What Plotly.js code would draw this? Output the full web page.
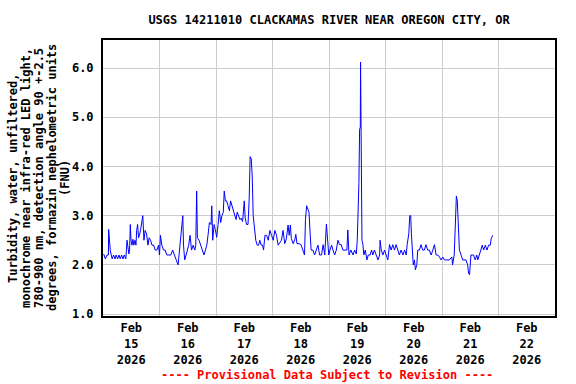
<!DOCTYPE html>
<html>
<head>
<meta charset="utf-8">
<script src="https://cdn.plot.ly/plotly-3.0.1.min.js"></script>
<style>html,body{margin:0;padding:0;background:#fff}#chart{width:576px;height:384px}</style>
</head>
<body>
<div id="chart"></div>
<script>
// Hours after 2026-02-15 00:00 and turbidity (FNU)
const hours = [0.3,1.0,1.7,2.3,2.4,2.7,3.1,3.5,3.9,4.5,5.1,5.6,6.2,6.8,7.3,7.9,8.5,9.0,9.7,10.2,10.6,11.0,11.3,11.6,11.9,12.3,12.7,13.1,13.6,14.0,14.3,14.7,15.1,15.5,16.0,16.5,16.9,17.4,17.9,18.5,19.1,19.6,20.2,20.8,21.5,22.2,22.9,23.6,24.0,24.4,25.0,25.7,26.4,27.1,28.0,28.8,29.6,30.2,31.1,31.9,32.5,33.0,33.5,33.9,34.2,34.7,35.3,35.9,36.4,37.0,37.6,38.3,39.0,39.4,39.8,40.1,40.8,41.5,42.2,42.9,43.5,44.1,44.6,45.2,45.9,46.2,46.6,47.2,47.7,48.3,48.9,49.4,50.0,50.5,51.1,51.5,52.0,52.5,53.1,53.7,54.2,54.8,55.3,55.9,56.5,57.0,57.6,58.2,58.7,59.3,60.0,60.4,61.0,61.6,62.1,62.5,63.0,63.4,63.8,64.4,64.9,65.5,66.1,66.6,67.2,67.8,68.2,68.8,69.5,70.2,70.9,71.6,72.3,73.0,73.7,74.4,75.1,75.8,76.5,77.2,77.9,78.6,79.1,79.6,80.0,80.8,81.5,81.9,82.4,83.3,84.1,85.0,85.6,86.0,86.5,87.1,87.5,88.0,88.4,89.2,89.9,90.6,91.3,92.0,92.8,93.5,94.2,94.9,95.3,95.9,96.4,97.1,97.7,98.4,99.1,99.8,100.5,101.2,101.9,102.9,103.6,104.0,104.5,105.3,106.2,106.9,107.6,108.0,108.4,108.7,109.0,109.3,109.4,109.6,109.7,110.0,110.4,110.8,111.4,112.1,112.7,113.5,114.1,114.6,115.3,116.1,116.8,117.5,117.7,118.2,118.9,119.6,120.3,121.0,121.7,122.4,123.1,123.8,124.5,125.2,125.9,126.6,127.4,128.1,128.8,129.2,129.9,130.3,130.7,131.0,131.4,131.8,132.3,132.7,133.3,133.7,134.4,135.1,135.8,136.5,137.2,137.9,138.6,139.4,140.1,140.8,141.5,142.2,142.9,143.6,144.3,145.0,145.7,147.1,148.2,148.5,149.2,149.7,150.1,150.5,150.9,151.4,152.1,152.8,154.2,154.9,155.3,155.7,156.3,157.4,158.1,158.8,159.2,160.0,160.5,161.1,161.7,162.4,163.1,163.8,164.5,164.9,165.5];
const turbidity = [2.22,2.12,2.2,2.2,2.72,2.46,2.29,2.2,2.12,2.2,2.12,2.2,2.12,2.2,2.12,2.2,2.12,2.2,2.12,2.5,2.4,2.22,2.3,2.82,2.5,2.4,2.52,2.4,2.5,2.4,2.7,2.82,2.55,2.6,2.72,2.86,3.0,2.5,2.7,2.63,2.4,2.55,2.5,2.4,2.4,2.3,2.3,2.4,2.2,2.6,2.4,2.3,2.3,2.2,2.2,2.2,2.3,2.2,2.1,2.0,2.3,2.5,2.82,3.0,2.4,2.1,2.2,2.3,2.4,2.6,2.3,2.4,2.3,2.4,3.5,2.55,2.5,2.4,2.3,2.2,2.3,2.4,2.6,2.86,2.82,3.2,2.5,2.82,2.72,2.56,2.82,3.1,2.86,3.0,3.07,3.5,3.3,3.3,3.2,3.1,3.3,3.2,3.1,3.0,2.92,3.07,3.0,2.92,2.95,2.88,3.3,2.95,2.82,2.82,3.34,4.2,4.15,3.78,3.0,2.72,2.5,2.4,2.4,2.5,2.4,2.4,2.3,2.6,2.6,2.5,2.7,2.6,2.5,2.7,2.6,2.4,2.45,2.5,2.7,2.43,2.53,2.81,2.6,2.81,2.53,2.43,2.52,2.62,2.43,2.43,2.41,2.3,2.2,2.92,3.2,3.12,3.07,2.63,2.3,2.3,2.2,2.3,2.4,2.2,2.2,2.41,2.2,2.83,2.5,2.2,2.3,2.4,2.3,2.2,2.3,2.5,2.41,2.41,2.3,2.3,2.3,2.71,2.2,2.3,2.2,2.3,2.22,2.5,3.0,3.65,4.75,4.8,6.12,4.7,4.26,2.5,2.41,2.2,2.3,2.1,2.2,2.2,2.3,2.2,2.3,2.2,2.1,2.2,2.5,2.3,2.2,2.3,2.2,2.1,2.41,2.3,2.41,2.3,2.41,2.3,2.2,2.3,2.2,2.3,2.2,2.41,2.63,3.0,3.0,2.63,2.16,2.0,2.1,1.9,2.0,2.3,2.3,2.41,2.3,2.3,2.41,2.3,2.3,2.2,2.3,2.41,2.2,2.2,2.16,2.1,2.16,2.1,2.1,2.1,2.16,2.0,2.2,2.92,3.4,3.3,2.87,2.3,2.2,2.1,2.1,2.0,1.82,1.8,2.2,2.2,2.1,2.2,2.1,2.2,2.3,2.4,2.3,2.4,2.3,2.4,2.4,2.53,2.6];
const yTicks = [1, 2, 3, 4, 5, 6];
const yTitleLines = [
  'Turbidity, water, unfiltered,',
  'monochrome near infra-red LED light,',
  '780-900 nm, detection angle 90 +-2.5',
  'degrees, formazin nephelometric units',
  '(FNU)'
];

const start = Date.UTC(2026, 1, 15);
const hourMs = 3600000;
function iso(ms) { return new Date(ms).toISOString().slice(0, 19).replace('T', ' '); }
const xs = hours.map(h => iso(start + h * hourMs));

const FONT = 'DejaVu Sans Mono';
const trace = {
  x: xs, y: turbidity, type: 'scatter', mode: 'lines',
  line: { color: '#0000ff', width: 1 }, hoverinfo: 'skip'
};
const annotations = yTitleLines.map((t, i) => ({
  text: t, xref: 'paper', yref: 'paper', x: (13 + 13 * i - 103) / 452, y: 0.5,
  xanchor: 'center', yanchor: 'middle', textangle: -90, showarrow: false,
  font: { family: FONT, size: 12, color: '#000000', weight: 700 }
}));
annotations.push({
  text: '---- Provisional Data Subject to Revision ----',
  xref: 'paper', yref: 'paper', x: (327 - 103) / 452, y: (316 - 375) / 276,
  xanchor: 'center', yanchor: 'middle', showarrow: false,
  font: { family: FONT, size: 12, color: '#ff0000', weight: 700 }
});
const layout = {
  width: 576, height: 384,
  margin: { l: 103, r: 21, t: 40, b: 68 },
  paper_bgcolor: '#ffffff', plot_bgcolor: '#ffffff',
  showlegend: false,
  font: { family: FONT, size: 12, color: '#000000', weight: 700 },
  title: {
    text: 'USGS 14211010 CLACKAMAS RIVER NEAR OREGON CITY, OR',
    font: { family: FONT, size: 12, color: '#000000', weight: 700 },
    xref: 'paper', x: 0.5, xanchor: 'center',
    yref: 'container', y: 1 - 20 / 384, yanchor: 'middle'
  },
  xaxis: {
    type: 'date',
    range: [iso(start), iso(start + 8 * 24 * hourMs)],
    tickmode: 'linear', tick0: iso(start), dtick: 24 * hourMs,
    tickformat: '%b<br>%d<br>%Y', ticklabelmode: 'period',
    showgrid: true, gridcolor: '#cccccc', gridwidth: 1,
    zeroline: false, ticks: '',
    showline: true, mirror: true, linecolor: '#000000', linewidth: 2,
    tickfont: { family: FONT, size: 12, color: '#000000', weight: 700 }
  },
  yaxis: {
    range: [0.96, 6.57],
    tickmode: 'array', tickvals: yTicks, tickformat: '.1f',
    showgrid: true, gridcolor: '#cccccc', gridwidth: 1, zeroline: false, ticks: '',
    showline: true, mirror: true, linecolor: '#000000', linewidth: 2,
    ticklabelstandoff: 5,
    tickfont: { family: FONT, size: 12, color: '#000000', weight: 700 }
  },
  annotations: annotations
};
Plotly.newPlot('chart', [trace], layout, { staticPlot: true, displayModeBar: false });
</script>
</body>
</html>
